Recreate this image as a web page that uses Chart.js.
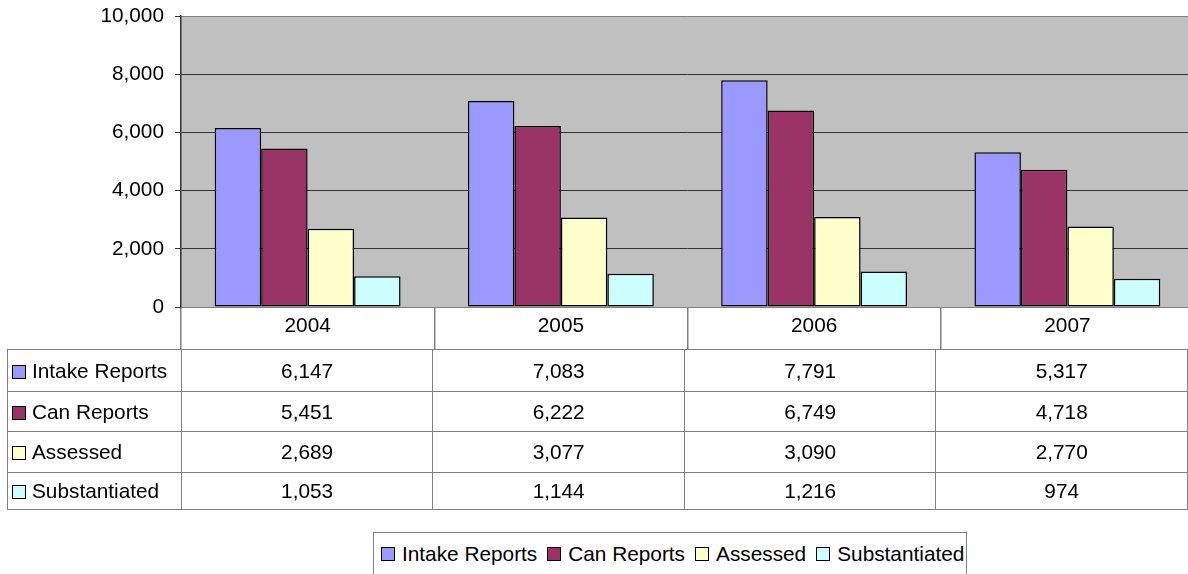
<!DOCTYPE html>
<html>
<head>
<meta charset="utf-8">
<script src="https://cdn.jsdelivr.net/npm/chart.js@4"></script>
<style>
  body { margin: 0; background: #fff; overflow: hidden; font-family: "Liberation Sans", Arial, sans-serif; }
  #wrap { position: relative; width: 1188px; height: 574px; overflow: hidden; }
  #myChart { position: absolute; left: 0; top: 0; }
  #tabla { position: absolute; left: 7px; top: 349px; border-collapse: collapse; table-layout: fixed; font-size: 20.8px; color: #000; }
  #tabla td { border: 1px solid #808080; text-align: center; vertical-align: middle; padding: 0; white-space: nowrap; overflow: hidden; }
  #tabla td.serie { text-align: left; padding-left: 4px; }
  #tabla tr:nth-child(1) td { height: 41px; }
  #tabla tr:nth-child(2) td { height: 39px; }
  #tabla tr:nth-child(3) td { height: 40px; }
  #tabla tr:nth-child(4) td { height: 36px; }
  .cuadro { display: inline-block; box-sizing: border-box; width: 14px; height: 14px; border: 1.5px solid #000; margin-right: 6px; vertical-align: -1px; }
  #leyenda { position: absolute; left: 373px; top: 532px; width: 594px; height: 44px; box-sizing: border-box; border: 1px solid #808080; display: flex; align-items: center; padding-left: 7px; font-size: 20.8px; white-space: nowrap; }
  #leyenda .item { display: flex; align-items: center; margin-right: 10px; }
  #leyenda .cuadro { margin-right: 7px; vertical-align: 0; }
</style>
</head>
<body>
<div id="wrap">
  <canvas id="myChart" width="1196" height="350"></canvas>
  <table id="tabla"></table>
  <div id="leyenda"></div>
</div>
<script>
//* datos del grafico
const anios = ["2004", "2005", "2006", "2007"];
const nombresSeries = ["Intake Reports", "Can Reports", "Assessed", "Substantiated"];
const intakeReports = [6147, 7083, 7791, 5317];
const canReports = [5451, 6222, 6749, 4718];
const assessed = [2689, 3077, 3090, 2770];
const substantiated = [1053, 1144, 1216, 974];
const maxY = 10000;
const pasoY = 2000;

//* colores de cada serie
const colores = ["#9999FF", "#993366", "#FFFFCC", "#CCFFFF"];
const valoresSeries = [intakeReports, canReports, assessed, substantiated];
const fuente = { family: "'Liberation Sans', Arial, sans-serif", size: 20.8 };

const formato = (n) => n.toLocaleString("en-US");

//* plugin para pintar el fondo gris del area del grafico
const fondoGris = {
  id: "fondoGris",
  beforeDraw(chart) {
    const { ctx, chartArea } = chart;
    ctx.save();
    ctx.fillStyle = "#C0C0C0";
    ctx.fillRect(chartArea.left, chartArea.top, chartArea.right - chartArea.left, chartArea.bottom - chartArea.top);
    ctx.restore();
  },
};

const datasets = nombresSeries.map((nombre, i) => ({
  label: nombre,
  data: valoresSeries[i],
  backgroundColor: colores[i],
  borderColor: "#000",
  borderWidth: 1.5,
  borderSkipped: false,
  categoryPercentage: 0.734,
  barPercentage: 1,
}));

const config = {
  type: "bar",
  data: { labels: anios, datasets: datasets },
  options: {
    responsive: false,
    animation: false,
    layout: { padding: { top: 16, right: 2, left: 0, bottom: 0 } },
    plugins: { legend: { display: false }, tooltip: { enabled: false } },
    scales: {
      x: {
        afterFit: (s) => { s.height = 43; },
        border: { display: false },
        grid: { drawOnChartArea: false, drawTicks: true, tickLength: 42, color: "#808080", lineWidth: 1.5 },
        ticks: { font: fuente, color: "#000", padding: -35, maxRotation: 0 },
      },
      y: {
        min: 0,
        max: maxY,
        afterFit: (s) => { s.width = 181; s.paddingTop = 0; s.paddingBottom = 0; },
        border: { display: true, color: "#333", width: 1.5 },
        grid: {
          color: (c) => (c.tick && (c.tick.value === maxY || c.tick.value === 0) ? "#808080" : "#333"),
          tickColor: "#333",
          tickLength: 6,
          lineWidth: 1,
        },
        ticks: { stepSize: pasoY, font: fuente, color: "#000", padding: 11, callback: (v) => formato(v) },
      },
    },
  },
  plugins: [fondoGris],
};

const chartDOM = document.getElementById("myChart");
const grafico = new Chart(chartDOM, config);

//* tabla de datos debajo del grafico
const area = grafico.chartArea;
const anchoCol = (area.right - area.left) / anios.length;
let html = `<colgroup><col style="width:${area.left - 7}px">`;
for (let i = 0; i < anios.length; i++) html += `<col style="width:${anchoCol}px">`;
html += "</colgroup>";
nombresSeries.forEach((nombre, i) => {
  html += `<tr><td class="serie"><span class="cuadro" style="background:${colores[i]}"></span>${nombre}</td>`;
  for (let valor of valoresSeries[i]) html += `<td>${formato(valor)}</td>`;
  html += "</tr>";
});
document.getElementById("tabla").innerHTML = html;

//* leyenda de abajo
let leyenda = "";
nombresSeries.forEach((nombre, i) => {
  leyenda += `<span class="item"><span class="cuadro" style="background:${colores[i]}"></span>${nombre}</span>`;
});
document.getElementById("leyenda").innerHTML = leyenda;
</script>
</body>
</html>
